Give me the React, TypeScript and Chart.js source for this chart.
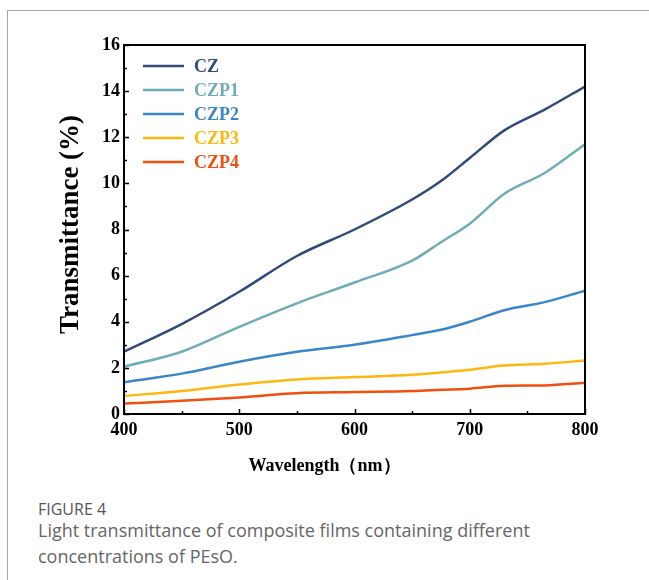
import React, { useEffect, useRef } from "react";
import { Chart, registerables } from "chart.js";

Chart.register(...registerables);

const wavelengths = [400, 450, 500, 550, 600, 650, 675, 700, 730, 765, 800];
const seriesNames = ["CZ", "CZP1", "CZP2", "CZP3", "CZP4"];
const seriesColors = ["#304a7a", "#6fadb6", "#3a86c8", "#ffb60f", "#f04f10"];
const cz = [2.7, 3.9, 5.3, 6.85, 8.0, 9.3, 10.1, 11.1, 12.3, 13.2, 14.2];
const czp1 = [2.05, 2.7, 3.78, 4.8, 5.7, 6.65, 7.45, 8.25, 9.55, 10.45, 11.7];
const czp2 = [1.38, 1.75, 2.27, 2.7, 3.0, 3.42, 3.65, 4.0, 4.5, 4.85, 5.35];
const czp3 = [0.78, 1.0, 1.28, 1.5, 1.6, 1.7, 1.8, 1.92, 2.1, 2.18, 2.32];
const czp4 = [0.45, 0.57, 0.72, 0.9, 0.95, 1.0, 1.05, 1.1, 1.22, 1.24, 1.35];
const seriesValues = [cz, czp1, czp2, czp3, czp4];
const xTitle = "Wavelength\uFF08nm\uFF09";
const yTitle = "Transmittance (%)";

const SERIF = "'Liberation Serif', 'Times New Roman', serif";

const framePlugin = {
  id: "frame",
  afterDraw(chart: any) {
    const { ctx, chartArea, scales } = chart;
    const { left, right, top, bottom } = chartArea;
    const x = scales.x;
    const y = scales.y;
    ctx.save();
    ctx.strokeStyle = "#000";
    ctx.lineWidth = 1.5;
    for (let v = 0; v <= 16; v++) {
      const py = Math.round(y.getPixelForValue(v)) + 0.5;
      const len = v % 2 === 0 ? 5 : 3;
      ctx.beginPath();
      ctx.moveTo(left, py);
      ctx.lineTo(left + len, py);
      ctx.stroke();
    }
    for (let v = 400; v <= 800; v += 50) {
      const px = Math.round(x.getPixelForValue(v)) + 0.5;
      const len = v % 100 === 0 ? 5 : 3;
      ctx.beginPath();
      ctx.moveTo(px, bottom);
      ctx.lineTo(px, bottom - len);
      ctx.stroke();
    }
    ctx.lineWidth = 2;
    ctx.strokeRect(left, top, right - left, bottom - top);

    // legend
    chart.data.datasets.forEach((ds: any, i: number) => {
      const cy = top + 21 + i * 24;
      ctx.strokeStyle = ds.borderColor;
      ctx.lineWidth = 2.5;
      ctx.beginPath();
      ctx.moveTo(left + 19, cy);
      ctx.lineTo(left + 60, cy);
      ctx.stroke();
      ctx.fillStyle = ds.borderColor;
      ctx.font = `bold 18px ${SERIF}`;
      ctx.textBaseline = "middle";
      ctx.textAlign = "left";
      ctx.fillText(ds.label, left + 70, cy + 1);
    });

    // axis titles
    ctx.fillStyle = "#000";
    ctx.font = `bold 18px ${SERIF}`;
    ctx.textAlign = "center";
    ctx.textBaseline = "middle";
    ctx.fillText(xTitle, (left + right) / 2 - 30, bottom + 52);

    ctx.save();
    ctx.translate(63, (top + bottom) / 2 - 5);
    ctx.rotate(-Math.PI / 2);
    ctx.font = `bold 27px ${SERIF}`;
    ctx.fillText(yTitle, 0, 0);
    ctx.restore();
    ctx.restore();
  },
};

export default function App() {
  const ref = useRef<HTMLCanvasElement>(null);
  useEffect(() => {
    if (!ref.current) return;
    const datasets = seriesNames.map((name, i) => ({
      label: name,
      data: wavelengths.map((w, j) => ({ x: w, y: seriesValues[i][j] })),
      borderColor: seriesColors[i],
      backgroundColor: seriesColors[i],
      borderWidth: 2.5,
      pointRadius: 0,
      cubicInterpolationMode: "monotone" as const,
      fill: false,
    }));
    const chart = new Chart(ref.current, {
      type: "line",
      data: { datasets },
      options: {
        animation: false,
        responsive: false,
        devicePixelRatio: 1,
        layout: { padding: { left: 0, right: 53, top: 34, bottom: 0 } },
        plugins: { legend: { display: false }, tooltip: { enabled: false } },
        scales: {
          x: {
            type: "linear",
            min: 400,
            max: 800,
            afterFit: (s: any) => {
              s.height = 77;
            },
            grid: { display: false, drawTicks: false },
            border: { display: false },
            ticks: {
              stepSize: 100,
              padding: 6,
              color: "#000",
              font: { family: SERIF, size: 18, weight: "bold" },
            },
          },
          y: {
            min: 0,
            max: 16,
            afterFit: (s: any) => {
              s.width = 116;
            },
            grid: { display: false, drawTicks: false },
            border: { display: false },
            ticks: {
              stepSize: 2,
              padding: 4,
              color: "#000",
              font: { family: SERIF, size: 18, weight: "bold" },
            },
          },
        },
      },
      plugins: [framePlugin],
    });
    return () => chart.destroy();
  }, []);

  return (
    <div
      style={{
        position: "absolute",
        top: 10,
        left: 7,
        width: 650,
        height: 580,
        borderTop: "1px solid #a6a6a6",
        borderLeft: "1px solid #a6a6a6",
      }}
    >
      <canvas
        ref={ref}
        width={630}
        height={480}
        style={{ position: "absolute", left: 0, top: 0, width: 630, height: 480 }}
      />
      <div
        style={{
          position: "absolute",
          left: 30,
          top: 487,
          fontFamily: "'Open Sans', sans-serif",
          fontSize: 16,
          lineHeight: "22px",
          color: "#555",
          whiteSpace: "nowrap",
        }}
      >
        FIGURE 4
      </div>
      <div
        style={{
          position: "absolute",
          left: 30,
          top: 506,
          fontFamily: "'Open Sans', sans-serif",
          fontSize: 18,
          lineHeight: "26px",
          color: "#666",
          whiteSpace: "nowrap",
        }}
      >
        Light transmittance of composite films containing different
        <br />
        concentrations of PEsO.
      </div>
    </div>
  );
}
